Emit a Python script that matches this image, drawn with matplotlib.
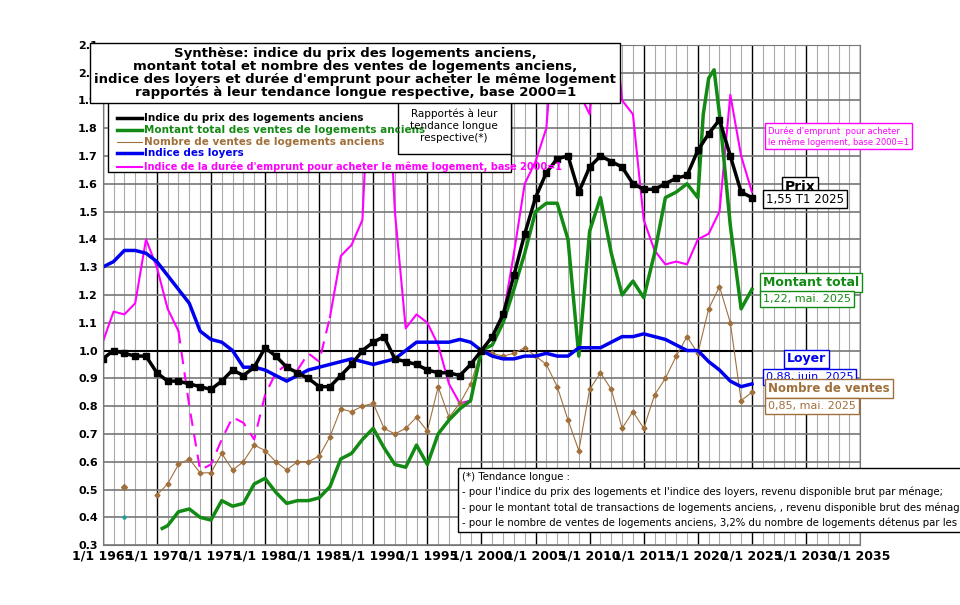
import matplotlib.pyplot as plt
import numpy as np

# annual values
years = list(range(1965, 2026))
prix = [0.97, 1.0, 0.99, 0.98, 0.98, 0.92, 0.89, 0.89, 0.88, 0.87, 0.86, 0.89, 0.93, 0.91, 0.94,
        1.01, 0.98, 0.94, 0.92, 0.90, 0.87, 0.87, 0.91, 0.95, 1.0, 1.03, 1.05, 0.97, 0.96, 0.95,
        0.93, 0.92, 0.92, 0.91, 0.95, 1.0, 1.05, 1.13, 1.27, 1.42, 1.55, 1.64, 1.69, 1.70, 1.57,
        1.66, 1.70, 1.68, 1.66, 1.60, 1.58, 1.58, 1.60, 1.62, 1.63, 1.72, 1.78, 1.83, 1.70, 1.57, 1.55]
loyers = [1.30, 1.32, 1.36, 1.36, 1.35, 1.32, 1.27, 1.22, 1.17, 1.07, 1.04, 1.03, 1.00, 0.94, 0.94,
          0.93, 0.91, 0.89, 0.91, 0.93, 0.94, 0.95, 0.96, 0.97, 0.96, 0.95, 0.96, 0.97, 1.00, 1.03,
          1.03, 1.03, 1.03, 1.04, 1.03, 1.00, 0.98, 0.97, 0.97, 0.98, 0.98, 0.99, 0.98, 0.98, 1.01,
          1.01, 1.01, 1.03, 1.05, 1.05, 1.06, 1.05, 1.04, 1.02, 1.00, 1.00, 0.96, 0.93, 0.89, 0.87, 0.88]
duree = [1.03, 1.14, 1.13, 1.17, 1.40, 1.30, 1.15, 1.07, 0.80, 0.57, 0.59, 0.68, 0.76, 0.74, 0.68,
         0.84, 0.92, 0.95, 0.93, 0.99, 0.96, 1.12, 1.34, 1.38, 1.47, 2.3, 2.3, 1.5, 1.08, 1.13,
         1.10, 1.02, 0.88, 0.81, 0.82, 1.0, 1.05, 1.12, 1.35, 1.60, 1.68, 1.80, 2.3, 2.3, 1.93,
         1.85, 2.3, 2.3, 1.90, 1.85, 1.47, 1.36, 1.31, 1.32, 1.31, 1.40, 1.42, 1.50, 1.92, 1.70, 1.57]
years_mt = [1970.5] + list(range(1971, 2021)) + [2020.5, 2021, 2021.5, 2022, 2023, 2024, 2025]
montant = [0.36, 0.37, 0.42, 0.43, 0.40, 0.39, 0.46, 0.44, 0.45, 0.52, 0.54, 0.49, 0.45, 0.46, 0.46,
           0.47, 0.51, 0.61, 0.63, 0.68, 0.72, 0.65, 0.59, 0.58, 0.66, 0.59, 0.70, 0.75, 0.79, 0.82,
           1.0, 1.02, 1.10, 1.22, 1.35, 1.50, 1.53, 1.53, 1.40, 0.98, 1.43, 1.55, 1.35, 1.20, 1.25,
           1.19, 1.35, 1.55, 1.57, 1.60, 1.55, 1.85, 1.98, 2.01, 1.85, 1.45, 1.15, 1.22]
years_nb = list(range(1970, 2026))
nombre = [0.48, 0.52, 0.59, 0.61, 0.56, 0.56, 0.63, 0.57, 0.60, 0.66, 0.64, 0.60, 0.57, 0.60, 0.60,
          0.62, 0.69, 0.79, 0.78, 0.80, 0.81, 0.72, 0.70, 0.72, 0.76, 0.71, 0.87, 0.76, 0.81, 0.88,
          1.0, 0.99, 0.98, 0.99, 1.01, 0.98, 0.95, 0.87, 0.75, 0.64, 0.86, 0.92, 0.86, 0.72, 0.78,
          0.72, 0.84, 0.90, 0.98, 1.05, 0.99, 1.15, 1.23, 1.10, 0.82, 0.85]
x_ticks = list(range(1965, 2036, 5))
x_labels = ["1/1 %d" % y for y in x_ticks]

BROWN = '#A0703C'
fig = plt.figure(figsize=(9.6, 6.05), dpi=100)
ax = fig.add_axes([0.107, 0.099, 0.789, 0.827])

ax.set_xlim(1965, 2035)
ax.set_ylim(0.3, 2.1)
ax.set_xticks(x_ticks)
ax.set_xticklabels(x_labels, fontsize=9, fontweight='bold', fontfamily='Liberation Sans Narrow')
ax.set_xticks(range(1965, 2036), minor=True)
ax.set_yticks(np.arange(0.3, 2.11, 0.1))
ax.set_yticklabels(['%.1f' % v for v in np.arange(0.3, 2.11, 0.1)], fontsize=8, fontweight='bold')
ax.grid(axis='x', which='minor', color='#aaaaaa', lw=0.8)
ax.grid(axis='x', which='major', color='black', lw=1)
ax.grid(axis='y', which='major', color='#777777', lw=1.2)
ax.tick_params(which='both', length=0)
for s in ax.spines.values():
    s.set_color('#777777')
ax.axhline(1.0, xmin=0, xmax=(2025 - 1965) / 70, color='black', lw=1.5)

yd = np.array(years)
dd = np.array(duree)
ax.plot(yd[:8], dd[:8], color='#FF00FF', lw=1.5)
ax.plot(yd[7:22], dd[7:22], color='#FF00FF', lw=1.5, ls=(0, (6, 4)))
ax.plot(yd[21:], dd[21:], color='#FF00FF', lw=1.5)
ax.plot(years_nb, nombre, color=BROWN, lw=0.8, marker='D', ms=2.5)
ax.plot([1967], [0.51], color=BROWN, marker='D', ms=3)
ax.plot([1967], [0.40], color='#2a9d9d', marker='D', ms=2)
ax.plot(years_mt, montant, color='#138A13', lw=2.5)
ax.plot(years, loyers, color='#0000EE', lw=2.5)
ax.plot(years, prix, color='black', lw=2.5, marker='s', ms=4)

fig.text(0.37, 0.922,
         "Synthèse: indice du prix des logements anciens,\nmontant total et nombre des ventes de logements anciens,\n"
         "indice des loyers et durée d'emprunt pour acheter le même logement\nrapportés à leur tendance longue respective, base 2000=1",
         ha='center', va='top', fontsize=9.5, fontweight='bold',
         linespacing=1.0, bbox=dict(fc='white', ec='black', lw=1, pad=3))

leg = [("Indice du prix des logements anciens", 'black', 2.5),
       ("Montant total des ventes de logements anciens", '#138A13', 2.5),
       ("Nombre de ventes de logements anciens", BROWN, 0.8),
       ("Indice des loyers", '#0000EE', 2.5),
       ("Indice de la durée d'emprunt pour acheter le même logement, base 2000=1", '#FF00FF', 1.5)]
fig.patches.append(plt.Rectangle((0.112, 0.715), 0.42, 0.117, transform=fig.transFigure,
                                 fc='white', ec='black', lw=1))
fig.patches.append(plt.Rectangle((0.415, 0.745), 0.117, 0.087, transform=fig.transFigure,
                                 fc='white', ec='black', lw=1))
for i, (lab, c, w) in enumerate(leg):
    y = 0.805 - i * 0.0195 if i < 4 else 0.805 - 4 * 0.0195 - 0.003
    fig.add_artist(plt.Line2D([0.122, 0.148], [y, y], color=c, lw=w, transform=fig.transFigure))
    fig.text(0.150, y, lab, color=c, fontsize=7.5 if i < 4 else 7, fontweight='bold', va='center')
fig.text(0.473, 0.792, "Rapportés à leur\ntendance longue\nrespective(*)", ha='center', va='center', fontsize=7.5)

def box(x, y, s, c, ec, size=8.5, bold=False):
    ax.text(x, y, s, color=c, fontsize=size, fontweight='bold' if bold else 'normal', ha='left', va='center',
            bbox=dict(fc='white', ec=ec, lw=1, pad=2))

box(2028.0, 1.588, "Prix", 'black', 'black', 10, True)
box(2026.3, 1.545, "1,55 T1 2025", 'black', 'black', 8.5)
box(2026.0, 1.245, "Montant total", '#138A13', '#138A13', 9, True)
box(2026.0, 1.185, "1,22, mai. 2025", '#138A13', '#138A13', 8)
box(2028.2, 0.97, "Loyer", '#0000EE', '#0000EE', 9, True)
box(2026.3, 0.905, "0,88, juin. 2025", '#0000EE', '#0000EE', 8)
box(2026.5, 0.863, "Nombre de ventes", BROWN, BROWN, 8.5, True)
box(2026.5, 0.80, "0,85, mai. 2025", BROWN, BROWN, 8)
box(2026.5, 1.77, "Durée d'emprunt  pour acheter\nle même logement, base 2000=1", '#FF00FF', '#FF00FF', 6)

ax.text(1998.2, 0.462,
        "(*) Tendance longue :\n"
        "- pour l'indice du prix des logements et l'indice des loyers, revenu disponible brut par ménage;\n"
        "- pour le montant total de transactions de logements anciens, , revenu disponible brut des ménages;\n"
        "- pour le nombre de ventes de logements anciens, 3,2% du nombre de logements détenus par les ménages",
        fontsize=7.3, fontfamily='Liberation Sans Narrow', va='center', ha='left', linespacing=1.55,
        bbox=dict(fc='white', ec='black', lw=1, pad=3))

fig.savefig('out.png', dpi=100)
